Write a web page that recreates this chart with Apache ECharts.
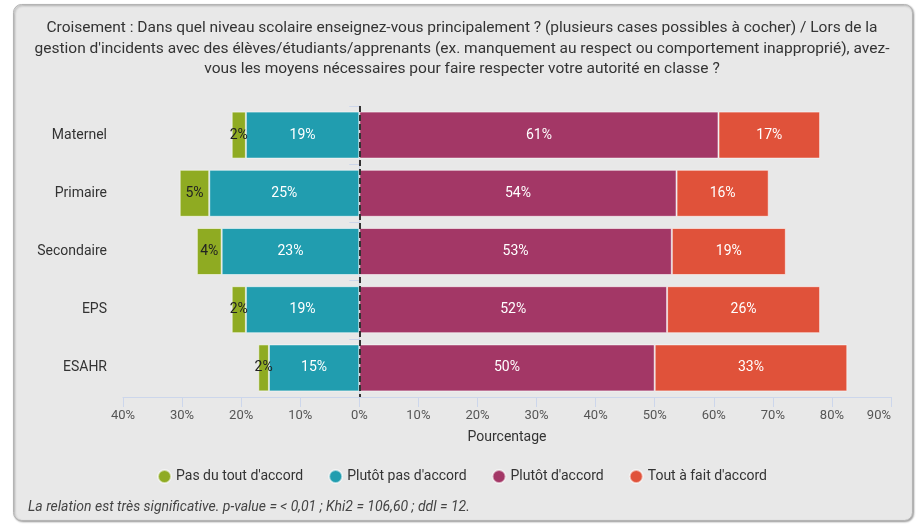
<!DOCTYPE html>
<html>
<head>
<meta charset="utf-8">
<script src="https://cdn.jsdelivr.net/npm/echarts@6/dist/echarts.min.js"></script>
<style>
  html, body { margin: 0; padding: 0; background: #fff; }
  #chart { width: 924px; height: 530px; }
</style>
</head>
<body>
<div id="chart"></div>
<script>
// niveaux scolaires (axe vertical)
const categories = ['Maternel', 'Primaire', 'Secondaire', 'EPS', 'ESAHR'];

// pourcentages
const pasDuTout = [2.4, 5.0, 4.2, 2.4, 1.8];
const plutotPas = [19.2, 25.4, 23.3, 19.2, 15.3];
const plutot = [60.8, 53.7, 52.9, 52.1, 50.0];
const toutAFait = [17.2, 15.6, 19.3, 25.9, 32.6];

const seriesNames = ["Pas du tout d'accord", "Plutôt pas d'accord", "Plutôt d'accord", "Tout à fait d'accord"];
const seriesColors = ['#8fab22', '#219daf', '#a33766', '#e0523a'];

const titleText = "Croisement : Dans quel niveau scolaire enseignez-vous principalement ? (plusieurs cases possibles à cocher) / Lors de la\n" +
  "gestion d'incidents avec des élèves/étudiants/apprenants (ex. manquement au respect ou comportement inapproprié), avez-\n" +
  "vous les moyens nécessaires pour faire respecter votre autorité en classe ?";
const footnote = 'La relation est très significative. p-value = < 0,01 ; Khi2 = 106,60 ; ddl = 12.';

const FONT = 'Roboto, "Noto Sans", sans-serif';

const pctLabel = (p) => Math.round(Math.abs(p.value)) + '%';

// une série de barres empilées ; négatif = côté gauche
const makeBar = (name, values, color, sign, labelColor) => ({
  name: name,
  type: 'bar',
  stack: 'total',
  barWidth: 47,
  data: values.map(v => sign * v),
  itemStyle: { color: color, borderColor: 'rgba(255,255,255,0.55)', borderWidth: 1 },
  label: {
    show: true,
    position: 'inside',
    formatter: pctLabel,
    color: labelColor,
    fontFamily: FONT,
    fontSize: 14
  },
  emphasis: { disabled: true }
});

// côté gauche : la barre la plus proche de 0 est empilée en premier
const teal = makeBar(seriesNames[1], plutotPas, seriesColors[1], -1, '#fff');
teal.markLine = {
  silent: true,
  symbol: 'none',
  label: { show: false },
  lineStyle: { color: '#333', type: [6, 3], width: 2 },
  data: [{ xAxis: 0 }]
};
const series = [
  teal,
  makeBar(seriesNames[0], pasDuTout, seriesColors[0], -1, '#222'),
  makeBar(seriesNames[2], plutot, seriesColors[2], 1, '#fff'),
  makeBar(seriesNames[3], toutAFait, seriesColors[3], 1, '#fff')
];

const option = {
  animation: false,
  textStyle: { fontFamily: FONT },
  graphic: [
    {
      type: 'rect',
      z: -10,
      shape: { x: 13.5, y: 4.5, width: 899, height: 516, r: 8 },
      style: {
        fill: '#e8e8e8',
        stroke: '#b4b4b4',
        lineWidth: 1,
        shadowColor: 'rgba(0,0,0,0.35)',
        shadowBlur: 2,
        shadowOffsetX: 1,
        shadowOffsetY: 1
      }
    },
    {
      type: 'text',
      left: 28,
      top: 500,
      style: {
        text: footnote,
        font: 'italic 14px ' + FONT,
        fill: '#444'
      }
    }
  ],
  title: {
    text: titleText,
    left: 'center',
    top: 13,
    textStyle: {
      fontFamily: FONT,
      fontSize: 15.5,
      fontWeight: 'normal',
      color: '#333',
      lineHeight: 20.5,
      align: 'center'
    }
  },
  legend: {
    data: seriesNames,
    top: 464,
    left: 'center',
    icon: 'circle',
    itemWidth: 13,
    itemHeight: 13,
    itemGap: 25,
    textStyle: { fontFamily: FONT, fontSize: 14, color: '#333' }
  },
  grid: { left: 123, right: 33, top: 106, bottom: 133 },
  xAxis: {
    type: 'value',
    min: -40,
    max: 90,
    interval: 10,
    name: 'Pourcentage',
    nameLocation: 'middle',
    nameGap: 33,
    nameTextStyle: { fontFamily: FONT, fontSize: 14, color: '#333' },
    splitLine: { show: false },
    axisLine: { show: true, lineStyle: { color: '#ccd6eb' } },
    axisTick: { show: true, length: 10, lineStyle: { color: '#ccd6eb' } },
    axisLabel: {
      margin: 12,
      fontFamily: FONT,
      fontSize: 13,
      color: '#555',
      alignMaxLabel: 'right',
      formatter: v => Math.abs(v) + '%'
    }
  },
  yAxis: {
    type: 'category',
    inverse: true,
    data: categories,
    axisLine: { show: true, lineStyle: { color: '#ccd6eb' } },
    axisTick: { show: true, length: 10, lineStyle: { color: '#ccd6eb' } },
    axisLabel: { margin: 16, fontFamily: FONT, fontSize: 14, color: '#333' }
  },
  series: series
};

const chart = echarts.init(document.getElementById('chart'));
chart.setOption(option);
</script>
</body>
</html>
